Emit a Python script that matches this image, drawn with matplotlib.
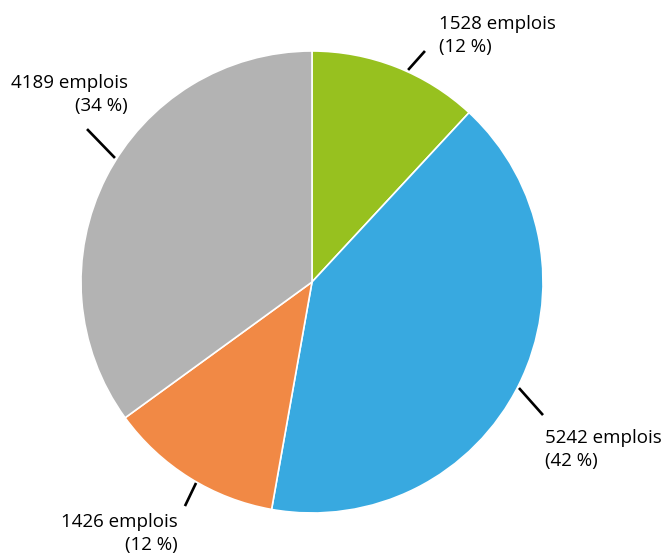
import matplotlib
matplotlib.use("Agg")
import matplotlib.pyplot as plt

# données du graphique
emplois = [1528, 5242, 1426, 4189]
pourcentages = [12, 42, 12, 34]
# parts des secteurs telles que dessinées sur l'image (%)
parts = [11.9, 40.9, 12.2, 35.0]
couleurs = ["#97C11F", "#38A9E0", "#F18945", "#B3B3B3"]

# mise en page : étiquettes et traits de rappel (en rayons)
label_pos = [(0.550, 1.066), (1.009, -0.725), (-0.580, -1.090), (-0.797, 0.812)]
label_ha = ["left", "left", "right", "right"]
leaders = [((0.416, 0.918), (0.489, 1.000)),
           ((0.896, -0.459), (1.000, -0.576)),
           ((-0.502, -0.870), (-0.550, -0.970)),
           ((-0.853, 0.537), (-0.974, 0.662))]

plt.rcParams["font.family"] = ["Open Sans", "DejaVu Sans"]

fig = plt.figure(figsize=(6.66, 5.55), dpi=100)
ax = fig.add_axes([0, 0, 1, 1])

wedges, _ = ax.pie(parts, colors=couleurs, startangle=90, counterclock=False,
                   radius=1, wedgeprops=dict(edgecolor="white", linewidth=1.2))

for i in range(len(emplois)):
    (x0, y0), (x1, y1) = leaders[i]
    ax.plot([x0, x1], [y0, y1], color="black", lw=1.9, solid_capstyle="butt")
    x, y = label_pos[i]
    ax.text(x, y, f"{emplois[i]} emplois\n({pourcentages[i]} %)", ha=label_ha[i],
            va="center", fontsize=13.5, linespacing=1.35, multialignment=label_ha[i])

ax.set_xlim(-312 / 231, (666 - 312) / 231)
ax.set_ylim((282 - 555) / 231, 282 / 231)
ax.set_aspect("auto")
ax.axis("off")

fig.savefig("out.png", dpi=100)
